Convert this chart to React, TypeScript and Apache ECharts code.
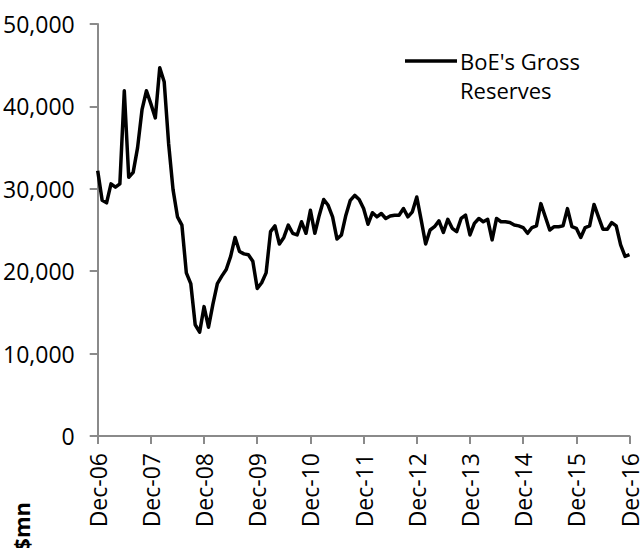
import React, { useEffect, useRef } from "react";
import * as echarts from "echarts";

const MONTH_NAMES = ["Jan", "Feb", "Mar", "Apr", "May", "Jun", "Jul", "Aug", "Sep", "Oct", "Nov", "Dec"];

// Monthly, Dec-06 .. Dec-16 (US$ mn)
const reservesDec06 = [32200];
const reserves2007 = [28600, 28300, 30600, 30200, 30600, 41900, 31400, 32000, 35000, 39600, 41900, 40300];
const reserves2008 = [38600, 44700, 43000, 35500, 29900, 26600, 25600, 19800, 18500, 13500, 12600, 15700];
const reserves2009 = [13200, 16000, 18500, 19400, 20200, 21800, 24100, 22400, 22100, 22000, 21200, 17900];
const reserves2010 = [18600, 19800, 24800, 25500, 23300, 24100, 25600, 24600, 24400, 26000, 24600, 27400];
const reserves2011 = [24600, 26800, 28700, 28000, 26600, 23900, 24400, 26800, 28600, 29200, 28700, 27600];
const reserves2012 = [25700, 27100, 26600, 27000, 26400, 26700, 26800, 26800, 27600, 26600, 27200, 29000];
const reserves2013 = [26200, 23300, 25000, 25400, 26100, 24700, 26300, 25200, 24800, 26400, 26800, 24400];
const reserves2014 = [25800, 26400, 26000, 26300, 23800, 26400, 26000, 26000, 25900, 25600, 25500, 25300];
const reserves2015 = [24600, 25300, 25500, 28200, 26600, 25000, 25400, 25400, 25500, 27600, 25400, 25200];
const reserves2016 = [24100, 25300, 25500, 28100, 26600, 25100, 25100, 25900, 25500, 23200, 21800, 22000];

const grossReserves = [
  ...reservesDec06,
  ...reserves2007,
  ...reserves2008,
  ...reserves2009,
  ...reserves2010,
  ...reserves2011,
  ...reserves2012,
  ...reserves2013,
  ...reserves2014,
  ...reserves2015,
  ...reserves2016,
];

const categories: string[] = grossReserves.map((_, i) => {
  const m = (11 + i) % 12;
  const y = 2006 + Math.floor((11 + i) / 12);
  return `${MONTH_NAMES[m]}-${String(y % 100).padStart(2, "0")}`;
});

const yTicks = [0, 10000, 20000, 30000, 40000, 50000];
const seriesName = "BoE's Gross Reserves";
const legendText = "BoE's Gross\nReserves";
const unitLabel = "$mn";

const FONT = "'Open Sans', 'Noto Sans', sans-serif";
const AXIS_COLOR = "#8a8a8a";

export default function App() {
  const ref = useRef<HTMLDivElement>(null);

  useEffect(() => {
    if (!ref.current) return;
    const chart = echarts.init(ref.current, undefined, { renderer: "svg" });
    chart.setOption({
      animation: false,
      backgroundColor: "#ffffff",
      textStyle: { fontFamily: FONT },
      grid: { left: 97, right: 10, top: 24, bottom: 112, containLabel: false },
      xAxis: {
        type: "category",
        data: categories,
        boundaryGap: false,
        axisLine: { show: true, lineStyle: { color: AXIS_COLOR, width: 2 } },
        axisTick: {
          show: true,
          interval: 11,
          length: 8,
          lineStyle: { color: AXIS_COLOR, width: 2 },
        },
        axisLabel: {
          interval: 11,
          rotate: 90,
          margin: 17,
          color: "#000",
          fontFamily: FONT,
          fontSize: 23,
        },
        splitLine: { show: false },
      },
      yAxis: {
        type: "value",
        min: yTicks[0],
        max: yTicks[yTicks.length - 1],
        interval: 10000,
        axisLine: { show: true, lineStyle: { color: AXIS_COLOR, width: 2 } },
        axisTick: { show: true, length: 8, lineStyle: { color: AXIS_COLOR, width: 2 } },
        axisLabel: {
          margin: 23,
          color: "#000",
          fontFamily: FONT,
          fontSize: 23,
          formatter: (v: number) => v.toLocaleString("en-US"),
        },
        splitLine: { show: false },
      },
      series: [
        {
          name: seriesName,
          type: "line",
          data: grossReserves,
          showSymbol: false,
          symbol: "none",
          lineStyle: { color: "#000", width: 3.5, join: "round" },
          itemStyle: { color: "#000" },
        },
      ],
      graphic: [
        {
          type: "line",
          shape: { x1: 405, y1: 61, x2: 457, y2: 61 },
          style: { stroke: "#000", lineWidth: 3.5 },
        },
        {
          type: "text",
          left: 460,
          top: 46,
          style: {
            text: legendText,
            fill: "#000",
            font: `22px ${FONT}`,
            lineHeight: 29,
            align: "left",
            verticalAlign: "top",
          },
        },
        {
          type: "text",
          x: 21,
          y: 502,
          rotation: Math.PI / 2,
          style: {
            text: unitLabel,
            fill: "#000",
            font: `bold 22px ${FONT}`,
            align: "right",
            verticalAlign: "middle",
          },
        },
      ],
    });
    return () => chart.dispose();
  }, []);

  return (
    <div
      ref={ref}
      style={{ position: "fixed", left: 0, top: 0, width: 641, height: 548, background: "#fff" }}
    />
  );
}
